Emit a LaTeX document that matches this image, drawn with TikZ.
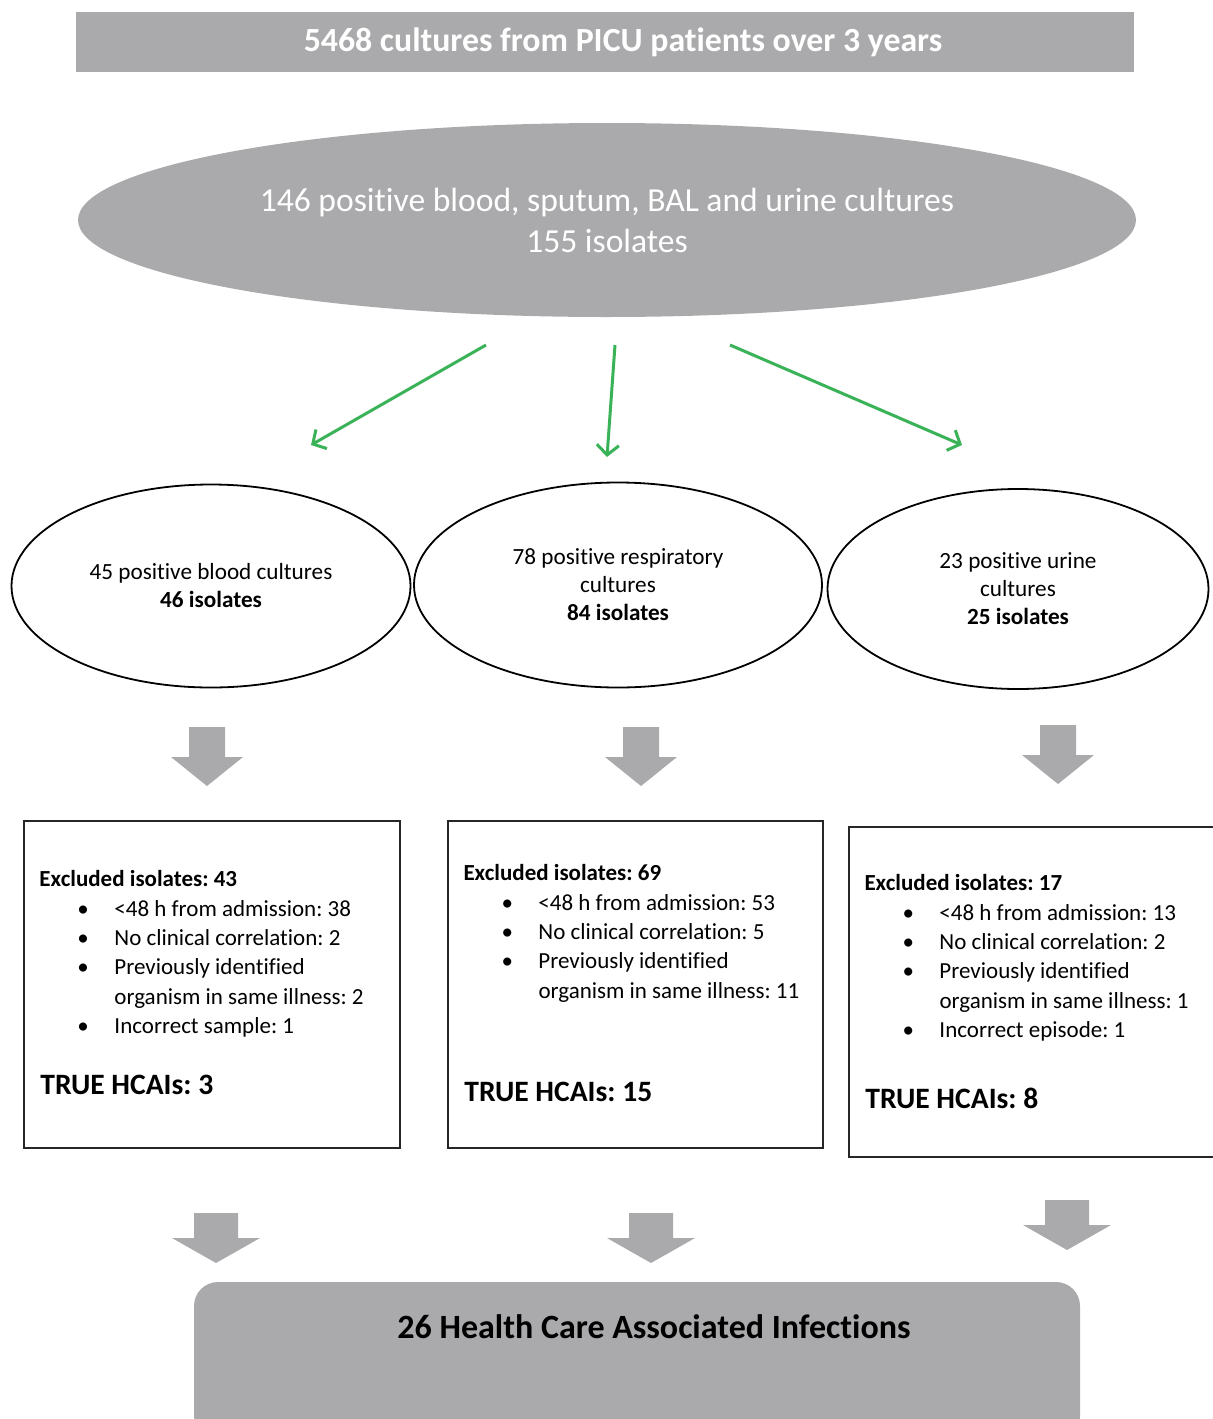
\documentclass[tikz,border=0pt]{standalone}
\usepackage{fontspec}
\setmainfont{Carlito}[Ligatures=NoCommon]
\usetikzlibrary{positioning,shapes.geometric,arrows.meta}
\frenchspacing
\definecolor{panelgray}{RGB}{170,170,172}
\definecolor{flowgreen}{RGB}{58,178,88}
\tikzset{top_banner/.style={rectangle, fill=panelgray, minimum width=529pt, minimum height=30pt, text=white, font=\bfseries\fontsize{16.9}{20}\selectfont}}
\tikzset{pool_ellipse/.style={ellipse, fill=panelgray, text=white, align=center, font=\fontsize{16.8}{20.5}\selectfont}}
\tikzset{site_ellipse/.style={ellipse, draw=black, line width=0.9pt, align=center, inner sep=0pt, font=\fontsize{11.6}{14}\selectfont}}
\tikzset{result_box/.style={rectangle, draw=black!85, line width=0.9pt}}
\tikzset{list_text/.style={anchor=north west, inner sep=0pt, align=left, font=\fontsize{11.5}{14.7}\selectfont}}
\tikzset{true_text/.style={anchor=west, inner sep=0pt, font=\bfseries\fontsize{14.8}{17}\selectfont}}
\tikzset{green_link/.style={color=flowgreen, line width=1.5pt, -{Straight Barb[length=5pt,width=11pt]}}}
\tikzset{final_box/.style={rectangle, rounded corners=12pt, fill=panelgray, minimum width=443pt, minimum height=79pt}}
\newcommand{\bul}{\makebox[37.5pt][l]{\hspace*{19pt}\textbullet}}
\newcommand{\cnt}{\hspace*{37.5pt}}

\begin{document}
\begin{tikzpicture}[x=0.5pt, y=-0.5pt]
  \clip (0,0) rectangle (1213,1419);
  \node[top_banner] (cultures) at (605,42) {\hspace*{18pt}5468 cultures from PICU patients over 3 years};
  \node[pool_ellipse, minimum width=529pt, minimum height=97pt] (positives) at (607,220) {146 positive blood, sputum, BAL and urine cultures\\155 isolates};

  % split by sample type
  \coordinate (s0) at (486,345);
  \coordinate (s1) at (615,345);
  \coordinate (s2) at (730,345);
  \coordinate (t0) at (311,445);
  \coordinate (t1) at (607,457);
  \coordinate (t2) at (962,445);
  \draw[green_link] (s0)--(t0);
  \draw[green_link] (s1)--(t1);
  \draw[green_link] (s2)--(t2);

  \node[site_ellipse, minimum width=199.5pt, minimum height=101.5pt] (blood) at (211,586) {45 positive blood cultures\\\textbf{46 isolates}};
  \node[site_ellipse, minimum width=204pt, minimum height=102.5pt] (resp) at (618,585) {78 positive respiratory\\cultures\\\textbf{84 isolates}};
  \node[site_ellipse, minimum width=190.5pt, minimum height=100pt] (urine) at (1018,589) {23 positive urine\\cultures\\\textbf{25 isolates}};

  \foreach \x/\y in {207/727, 641/727, 1058/725}
    \fill[panelgray] (\x-18,\y) -- (\x+18,\y) -- (\x+18,\y+30) -- (\x+36,\y+30) -- (\x,\y+59) -- (\x-36,\y+30) -- (\x-18,\y+30) -- cycle;

  \node[result_box, minimum width=188pt, minimum height=163.5pt] (bloodbox) at (212,984.5) {};
  \node[result_box, minimum width=187.5pt, minimum height=163.5pt] (respbox) at (635.5,984.5) {};
  \node[result_box, minimum width=184pt, minimum height=165pt] (urinebox) at (1033,992) {};

  \node[list_text, below right=25pt and 8pt of bloodbox.north west] (bloodlist) {\textbf{Excluded isolates: 43}\\
    \bul <48 h from admission: 38\\
    \bul No clinical correlation: 2\\
    \bul Previously identified\\
    \cnt organism in same illness: 2\\
    \bul Incorrect sample: 1};
  \node[list_text, below right=22pt and 8pt of respbox.north west] (resplist) {\textbf{Excluded isolates: 69}\\
    \bul <48 h from admission: 53\\
    \bul No clinical correlation: 5\\
    \bul Previously identified\\
    \cnt organism in same illness: 11};
  \node[list_text, below right=24pt and 8pt of urinebox.north west] (urinelist) {\textbf{Excluded isolates: 17}\\
    \bul <48 h from admission: 13\\
    \bul No clinical correlation: 2\\
    \bul Previously identified\\
    \cnt organism in same illness: 1\\
    \bul Incorrect episode: 1};

  \node[true_text] (bloodtrue) at (40,1085) {TRUE HCAIs: 3};
  \node[true_text] (resptrue) at (464,1092) {TRUE HCAIs: 15};
  \node[true_text] (urinetrue) at (865,1098) {TRUE HCAIs: 8};

  \foreach \x/\y in {216/1213, 651/1213, 1067/1200}
    \fill[panelgray] (\x-22,\y) -- (\x+22,\y) -- (\x+22,\y+25) -- (\x+44,\y+25) -- (\x,\y+50) -- (\x-44,\y+25) -- (\x-22,\y+25) -- cycle;

  \node[final_box] (hcai) at (637,1361) {};
  \node[font=\bfseries\fontsize{17}{20}\selectfont, below=13pt of hcai.north, xshift=8.5pt] (hcailabel) {26 Health Care Associated Infections};
\end{tikzpicture}
\end{document}
